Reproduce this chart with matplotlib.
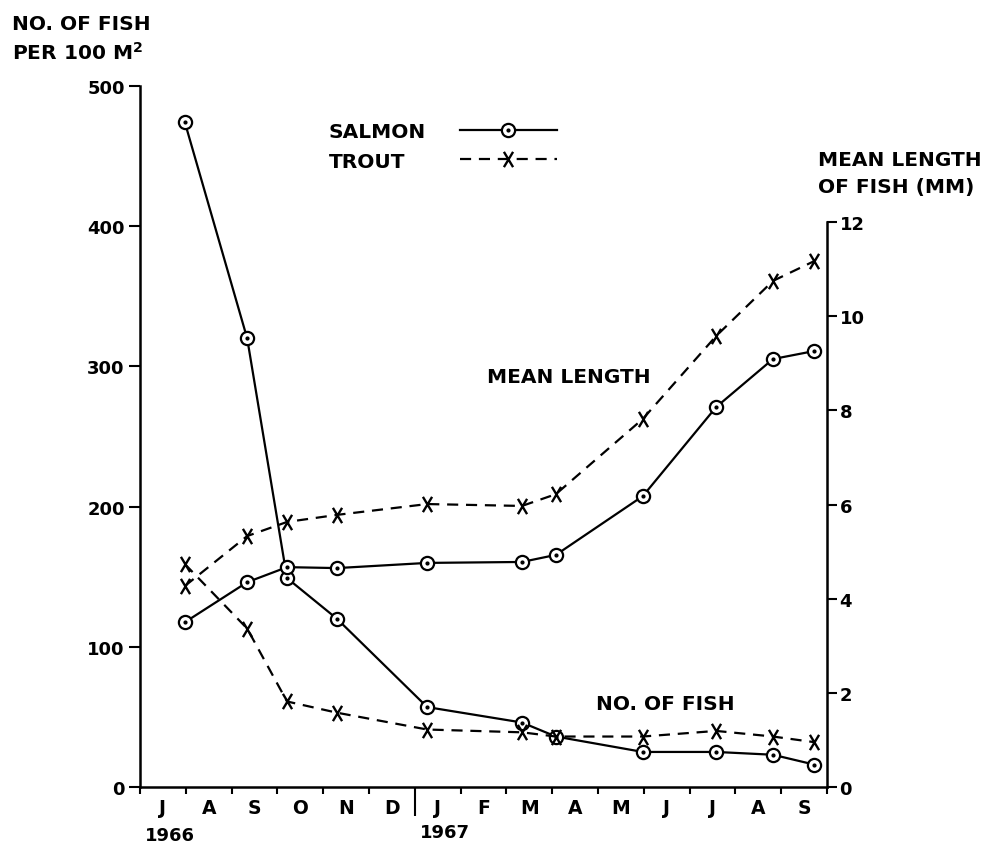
import matplotlib
matplotlib.use("Agg")
import matplotlib.pyplot as plt
from matplotlib.path import Path
from matplotlib.lines import Line2D

plt.rcParams["font.family"] = ["DejaVu Sans"]
plt.rcParams["mathtext.default"] = "regular"

# months from July 1966 to September 1967, one unit per month
months = ["J", "A", "S", "O", "N", "D", "J", "F", "M", "A", "M", "J", "J", "A", "S"]
years = ["1966", "1967"]
year_pos = [0.66, 6.66]

# sampling dates, in months after 1 July 1966
sample_month = [0.98, 2.34, 3.21, 4.30, 6.27, 8.34, 9.08, 10.98, 12.58, 13.82, 14.72]

# no. of fish per 100 m2
salmon_number = [474, 320, 149, 120, 57, 46, 36, 25, 25, 23, 16]
trout_number = [159, 113, 61, 53, 41, 39, 36, 36, 40, 36, 32]

# mean length of fish (mm)
salmon_length = [3.50, 4.35, 4.67, 4.65, 4.76, 4.78, 4.93, 6.18, 8.07, 9.09, 9.26]
trout_length = [4.27, 5.33, 5.63, 5.78, 6.01, 5.97, 6.22, 7.82, 9.58, 10.75, 11.17]

LW = 1.6
WORDS = dict(fontsize=14.5, fontweight="bold")
NUMS = dict(fontsize=13, fontweight="bold")

# tall hand-lettered style cross
cross = Path([(-0.6, -1), (0.6, 1), (-0.6, 1), (0.6, -1)],
             [Path.MOVETO, Path.LINETO, Path.MOVETO, Path.LINETO])

salmon_style = dict(color="black", lw=LW, marker="o", markersize=9.5,
                    markerfacecolor="white", markeredgecolor="black",
                    markeredgewidth=1.6, zorder=3)
dot_style = dict(ls="none", marker="o", markersize=2, color="black", zorder=4)
trout_style = dict(color="black", lw=LW, ls=(0, (5, 3.5)), marker=cross,
                   markersize=11, markeredgewidth=1.7, zorder=3)

fig = plt.figure(figsize=(9.94, 8.45), dpi=100)
ax = fig.add_axes([140 / 994, 57 / 845, 687 / 994, 701 / 845])
ax2 = ax.twinx()

ax.plot(sample_month, salmon_number, **salmon_style)
ax.plot(sample_month, salmon_number, **dot_style)
ax.plot(sample_month, trout_number, **trout_style)
ax2.plot(sample_month, salmon_length, **salmon_style)
ax2.plot(sample_month, salmon_length, **dot_style)
ax2.plot(sample_month, trout_length, **trout_style)

ax.set_xlim(0, 15)
ax.set_ylim(0, 500)
ax2.set_ylim(0, 14.89)

for s in ["top", "right"]:
    ax.spines[s].set_visible(False)
for s in ["top", "left", "bottom"]:
    ax2.spines[s].set_visible(False)
ax2.spines["right"].set_bounds(0, 12)
for s in ["left", "bottom"]:
    ax.spines[s].set_linewidth(1.8)
ax2.spines["right"].set_linewidth(1.8)

ax.set_xticks(range(16))
ax.set_xticklabels([])
ax.set_xticks([i + 0.5 for i in range(15)], minor=True)
ax.set_xticklabels(months, minor=True, fontsize=13.5, fontweight="bold")
ax.tick_params(axis="x", which="major", direction="out", length=5, width=1.5)
ax.tick_params(axis="x", which="minor", length=0, pad=8)
ax.xaxis.get_major_ticks()[6].tick1line.set_markersize(21)

ax.set_yticks(range(0, 501, 100))
ax.set_yticklabels([str(v) for v in range(0, 501, 100)], **NUMS)
ax.tick_params(axis="y", direction="out", length=8, width=1.5, pad=3)
ax2.set_yticks(range(0, 13, 2))
ax2.set_yticklabels([str(v) for v in range(0, 13, 2)], **NUMS)
ax2.tick_params(axis="y", direction="out", length=7, width=1.5, pad=2)

xt = ax.get_xaxis_transform()
ax.text(year_pos[0], -0.068, years[0], transform=xt, ha="center", va="center", **NUMS)
ax.text(year_pos[1], -0.064, years[1], transform=xt, ha="center", va="center", **NUMS)


def fx(x):
    return x / 994


def fy(y):
    return 1 - y / 845


def fig_text(x, y, s):
    fig.text(fx(x), fy(y), s, va="center", **WORDS)


fig_text(12, 24, "NO. OF FISH")
fig_text(12, 53, "PER 100 M$^{2}$")
fig_text(818, 160, "MEAN LENGTH")
fig_text(818, 188, "OF FISH (MM)")
fig_text(487, 378, "MEAN LENGTH")
fig_text(596, 705, "NO. OF FISH")

# key: label on the left, line sample on the right
key_x = [fx(460), fx(508), fx(557)]
fig_text(329, 133, "SALMON")
fig.add_artist(Line2D(key_x, [fy(131)] * 3, transform=fig.transFigure,
                      markevery=[1], **salmon_style))
fig.add_artist(Line2D([key_x[1]], [fy(131)], transform=fig.transFigure, **dot_style))
fig_text(329, 162, "TROUT")
fig.add_artist(Line2D(key_x, [fy(160)] * 3, transform=fig.transFigure,
                      markevery=[1], **trout_style))

fig.savefig("out.png", dpi=100)
